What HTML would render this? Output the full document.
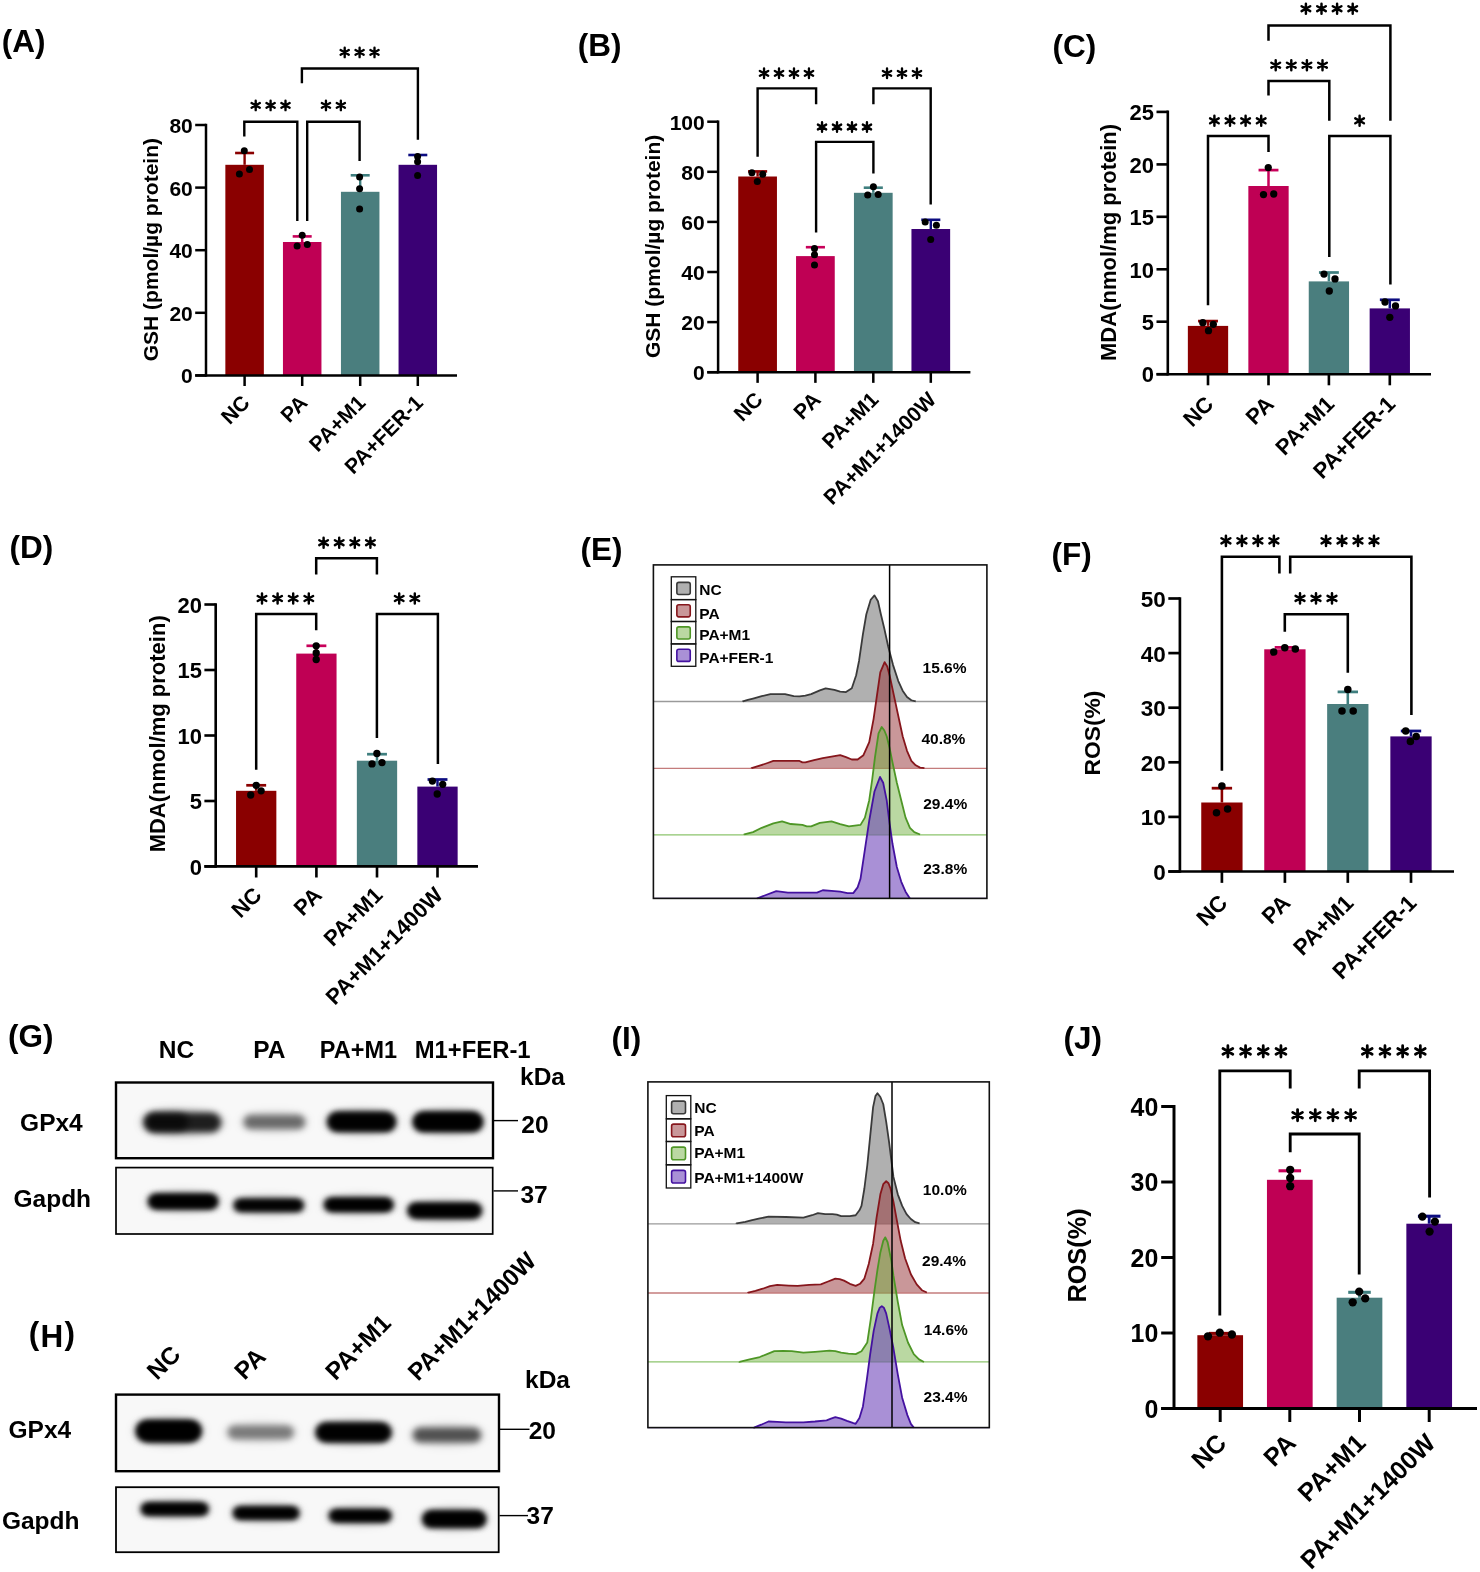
<!DOCTYPE html>
<html><head><meta charset="utf-8"><title>Figure</title>
<style>
html,body{margin:0;padding:0;background:#fff;}
body{width:1480px;height:1572px;overflow:hidden;}
svg{display:block;will-change:transform;}
svg text{font-family:"Liberation Sans",sans-serif;font-weight:bold;fill:#000;}
</style></head><body>
<svg width="1480" height="1572" viewBox="0 0 1480 1572">
<defs>
<filter id="bl" x="-30%" y="-100%" width="160%" height="300%"><feGaussianBlur stdDeviation="3.2"/></filter>
<filter id="bl2" x="-40%" y="-150%" width="180%" height="400%"><feGaussianBlur stdDeviation="5"/></filter>
</defs>
<rect width="1480" height="1572" fill="#fff"/>
<rect x="225.35" y="164.8" width="38.5" height="210.6" fill="#8a0000"/>
<rect x="282.95" y="242" width="38.5" height="133.4" fill="#bf0054"/>
<rect x="340.95" y="191.8" width="38.5" height="183.6" fill="#4a7e7e"/>
<rect x="398.55" y="164.8" width="38.5" height="210.6" fill="#3a0074"/>
<line x1="244.6" y1="164.8" x2="244.6" y2="153" stroke="#8a0000" stroke-width="2.4" stroke-linecap="butt"/>
<line x1="235.1" y1="153" x2="254.1" y2="153" stroke="#8a0000" stroke-width="2.6" stroke-linecap="butt"/>
<line x1="302.2" y1="242" x2="302.2" y2="236.4" stroke="#c8005a" stroke-width="2.4" stroke-linecap="butt"/>
<line x1="292.7" y1="236.4" x2="311.7" y2="236.4" stroke="#c8005a" stroke-width="2.6" stroke-linecap="butt"/>
<line x1="360.2" y1="191.8" x2="360.2" y2="175.3" stroke="#3f7f7f" stroke-width="2.4" stroke-linecap="butt"/>
<line x1="350.7" y1="175.3" x2="369.7" y2="175.3" stroke="#3f7f7f" stroke-width="2.6" stroke-linecap="butt"/>
<line x1="417.8" y1="164.8" x2="417.8" y2="155" stroke="#0c0c80" stroke-width="2.4" stroke-linecap="butt"/>
<line x1="408.3" y1="155" x2="427.3" y2="155" stroke="#0c0c80" stroke-width="2.6" stroke-linecap="butt"/>
<circle cx="244.3" cy="150.8" r="3.5" fill="#000"/>
<circle cx="249.5" cy="169.4" r="3.5" fill="#000"/>
<circle cx="239.4" cy="174.1" r="3.5" fill="#000"/>
<circle cx="302.2" cy="235.2" r="3.5" fill="#000"/>
<circle cx="297.1" cy="245.9" r="3.5" fill="#000"/>
<circle cx="307.3" cy="244.5" r="3.5" fill="#000"/>
<circle cx="359.6" cy="177" r="3.5" fill="#000"/>
<circle cx="359.6" cy="188.8" r="3.5" fill="#000"/>
<circle cx="359.6" cy="209" r="3.5" fill="#000"/>
<circle cx="417.6" cy="156.4" r="3.5" fill="#000"/>
<circle cx="417.6" cy="161.8" r="3.5" fill="#000"/>
<circle cx="417.6" cy="175.6" r="3.5" fill="#000"/>
<line x1="206" y1="123.75" x2="206" y2="376.65" stroke="#000" stroke-width="2.5" stroke-linecap="butt"/>
<line x1="195.2" y1="375.4" x2="457" y2="375.4" stroke="#000" stroke-width="2.5" stroke-linecap="butt"/>
<line x1="195.2" y1="375.4" x2="206" y2="375.4" stroke="#000" stroke-width="2.5" stroke-linecap="butt"/>
<text x="192.8" y="383.3" font-size="21" text-anchor="end" >0</text>
<line x1="195.2" y1="312.8" x2="206" y2="312.8" stroke="#000" stroke-width="2.5" stroke-linecap="butt"/>
<text x="192.8" y="320.7" font-size="21" text-anchor="end" >20</text>
<line x1="195.2" y1="250.2" x2="206" y2="250.2" stroke="#000" stroke-width="2.5" stroke-linecap="butt"/>
<text x="192.8" y="258.1" font-size="21" text-anchor="end" >40</text>
<line x1="195.2" y1="187.6" x2="206" y2="187.6" stroke="#000" stroke-width="2.5" stroke-linecap="butt"/>
<text x="192.8" y="195.5" font-size="21" text-anchor="end" >60</text>
<line x1="195.2" y1="125" x2="206" y2="125" stroke="#000" stroke-width="2.5" stroke-linecap="butt"/>
<text x="192.8" y="132.9" font-size="21" text-anchor="end" >80</text>
<line x1="244.6" y1="375.4" x2="244.6" y2="386" stroke="#000" stroke-width="2.5" stroke-linecap="butt"/>
<line x1="302.2" y1="375.4" x2="302.2" y2="386" stroke="#000" stroke-width="2.5" stroke-linecap="butt"/>
<line x1="360.2" y1="375.4" x2="360.2" y2="386" stroke="#000" stroke-width="2.5" stroke-linecap="butt"/>
<line x1="417.8" y1="375.4" x2="417.8" y2="386" stroke="#000" stroke-width="2.5" stroke-linecap="butt"/>
<text x="251.1" y="404.1" font-size="21" text-anchor="end" transform="rotate(-45 251.1 404.1)" >NC</text>
<text x="308.7" y="404.1" font-size="21" text-anchor="end" transform="rotate(-45 308.7 404.1)" >PA</text>
<text x="366.7" y="404.1" font-size="21" text-anchor="end" transform="rotate(-45 366.7 404.1)" >PA+M1</text>
<text x="424.3" y="404.1" font-size="21" text-anchor="end" transform="rotate(-45 424.3 404.1)" >PA+FER-1</text>
<text x="158" y="249.6" font-size="21" text-anchor="middle" transform="rotate(-90 158 249.6)" >GSH (pmol/µg protein)</text>
<path d="M244.3 136.4V121.7H297.3V220.9" stroke="#000" stroke-width="2.4" fill="none" stroke-linejoin="miter"/>
<path d="M307.2 220.9V121.7H359.6V160.9" stroke="#000" stroke-width="2.4" fill="none" stroke-linejoin="miter"/>
<path d="M301.9 83.2V68.5H417.9V139.8" stroke="#000" stroke-width="2.4" fill="none" stroke-linejoin="miter"/>
<path d="M255.7 100.65V110.15M251.59 103.03L259.81 107.78M251.59 107.78L259.81 103.03M270.6 100.65V110.15M266.49 103.03L274.71 107.78M266.49 107.78L274.71 103.03M285.5 100.65V110.15M281.39 103.03L289.61 107.78M281.39 107.78L289.61 103.03" stroke="#000" stroke-width="2.35" stroke-linecap="round" fill="none"/>
<path d="M325.95 100.65V110.15M321.84 103.03L330.06 107.78M321.84 107.78L330.06 103.03M340.85 100.65V110.15M336.74 103.03L344.96 107.78M336.74 107.78L344.96 103.03" stroke="#000" stroke-width="2.35" stroke-linecap="round" fill="none"/>
<path d="M344.7 47.65V57.15M340.59 50.02L348.81 54.77M340.59 54.77L348.81 50.02M359.6 47.65V57.15M355.49 50.02L363.71 54.77M355.49 54.77L363.71 50.02M374.5 47.65V57.15M370.39 50.02L378.61 54.77M370.39 54.77L378.61 50.02" stroke="#000" stroke-width="2.35" stroke-linecap="round" fill="none"/>
<text x="1.7" y="52.2" font-size="31.5" text-anchor="start" >(A)</text>
<rect x="738.25" y="176.5" width="38.7" height="195.7" fill="#8a0000"/>
<rect x="796.05" y="256.1" width="38.7" height="116.1" fill="#bf0054"/>
<rect x="853.95" y="192.8" width="38.7" height="179.4" fill="#4a7e7e"/>
<rect x="911.45" y="229" width="38.7" height="143.2" fill="#3a0074"/>
<line x1="757.6" y1="176.5" x2="757.6" y2="171.4" stroke="#8a0000" stroke-width="2.41" stroke-linecap="butt"/>
<line x1="748.05" y1="171.4" x2="767.15" y2="171.4" stroke="#8a0000" stroke-width="2.61" stroke-linecap="butt"/>
<line x1="815.4" y1="256.1" x2="815.4" y2="247.2" stroke="#c8005a" stroke-width="2.41" stroke-linecap="butt"/>
<line x1="805.85" y1="247.2" x2="824.95" y2="247.2" stroke="#c8005a" stroke-width="2.61" stroke-linecap="butt"/>
<line x1="873.3" y1="192.8" x2="873.3" y2="187.7" stroke="#3f7f7f" stroke-width="2.41" stroke-linecap="butt"/>
<line x1="863.75" y1="187.7" x2="882.85" y2="187.7" stroke="#3f7f7f" stroke-width="2.61" stroke-linecap="butt"/>
<line x1="930.8" y1="229" x2="930.8" y2="219.8" stroke="#0c0c80" stroke-width="2.41" stroke-linecap="butt"/>
<line x1="921.25" y1="219.8" x2="940.35" y2="219.8" stroke="#0c0c80" stroke-width="2.61" stroke-linecap="butt"/>
<circle cx="751.9" cy="172.7" r="3.52" fill="#000"/>
<circle cx="762.7" cy="174.3" r="3.52" fill="#000"/>
<circle cx="757.3" cy="181.6" r="3.52" fill="#000"/>
<circle cx="814.5" cy="248.4" r="3.52" fill="#000"/>
<circle cx="814.5" cy="254.8" r="3.52" fill="#000"/>
<circle cx="814.5" cy="265" r="3.52" fill="#000"/>
<circle cx="873.4" cy="186.7" r="3.52" fill="#000"/>
<circle cx="867.7" cy="195" r="3.52" fill="#000"/>
<circle cx="878.2" cy="194.4" r="3.52" fill="#000"/>
<circle cx="925.2" cy="222" r="3.52" fill="#000"/>
<circle cx="936.4" cy="225.2" r="3.52" fill="#000"/>
<circle cx="930.7" cy="239.5" r="3.52" fill="#000"/>
<line x1="718.1" y1="120.44" x2="718.1" y2="373.46" stroke="#000" stroke-width="2.51" stroke-linecap="butt"/>
<line x1="707.25" y1="372.2" x2="970.4" y2="372.2" stroke="#000" stroke-width="2.51" stroke-linecap="butt"/>
<line x1="707.25" y1="372.2" x2="718.1" y2="372.2" stroke="#000" stroke-width="2.51" stroke-linecap="butt"/>
<text x="704.83" y="380.14" font-size="21.1" text-anchor="end" >0</text>
<line x1="707.25" y1="322.1" x2="718.1" y2="322.1" stroke="#000" stroke-width="2.51" stroke-linecap="butt"/>
<text x="704.83" y="330.04" font-size="21.1" text-anchor="end" >20</text>
<line x1="707.25" y1="272" x2="718.1" y2="272" stroke="#000" stroke-width="2.51" stroke-linecap="butt"/>
<text x="704.83" y="279.94" font-size="21.1" text-anchor="end" >40</text>
<line x1="707.25" y1="221.9" x2="718.1" y2="221.9" stroke="#000" stroke-width="2.51" stroke-linecap="butt"/>
<text x="704.83" y="229.84" font-size="21.1" text-anchor="end" >60</text>
<line x1="707.25" y1="171.8" x2="718.1" y2="171.8" stroke="#000" stroke-width="2.51" stroke-linecap="butt"/>
<text x="704.83" y="179.74" font-size="21.1" text-anchor="end" >80</text>
<line x1="707.25" y1="121.7" x2="718.1" y2="121.7" stroke="#000" stroke-width="2.51" stroke-linecap="butt"/>
<text x="704.83" y="129.64" font-size="21.1" text-anchor="end" >100</text>
<line x1="757.6" y1="372.2" x2="757.6" y2="382.85" stroke="#000" stroke-width="2.51" stroke-linecap="butt"/>
<line x1="815.4" y1="372.2" x2="815.4" y2="382.85" stroke="#000" stroke-width="2.51" stroke-linecap="butt"/>
<line x1="873.3" y1="372.2" x2="873.3" y2="382.85" stroke="#000" stroke-width="2.51" stroke-linecap="butt"/>
<line x1="930.8" y1="372.2" x2="930.8" y2="382.85" stroke="#000" stroke-width="2.51" stroke-linecap="butt"/>
<text x="764.13" y="401.04" font-size="21.1" text-anchor="end" transform="rotate(-45 764.13 401.04)" >NC</text>
<text x="821.93" y="401.04" font-size="21.1" text-anchor="end" transform="rotate(-45 821.93 401.04)" >PA</text>
<text x="879.83" y="401.04" font-size="21.1" text-anchor="end" transform="rotate(-45 879.83 401.04)" >PA+M1</text>
<text x="937.33" y="401.04" font-size="21.1" text-anchor="end" transform="rotate(-45 937.33 401.04)" >PA+M1+1400W</text>
<text x="659.6" y="246.4" font-size="21" text-anchor="middle" transform="rotate(-90 659.6 246.4)" >GSH (pmol/µg protein)</text>
<path d="M757.6 156.8V88.4H816.1V104.3" stroke="#000" stroke-width="2.41" fill="none" stroke-linejoin="miter"/>
<path d="M816.1 232.5V141.9H873.4V173.4" stroke="#000" stroke-width="2.41" fill="none" stroke-linejoin="miter"/>
<path d="M873.4 104.3V88.4H930.7V204.5" stroke="#000" stroke-width="2.41" fill="none" stroke-linejoin="miter"/>
<path d="M764.04 68.53V78.07M759.9 70.91L768.17 75.69M759.9 75.69L768.17 70.91M779.01 68.53V78.07M774.88 70.91L783.15 75.69M774.88 75.69L783.15 70.91M793.99 68.53V78.07M789.85 70.91L798.12 75.69M789.85 75.69L798.12 70.91M808.96 68.53V78.07M804.83 70.91L813.1 75.69M804.83 75.69L813.1 70.91" stroke="#000" stroke-width="2.36" stroke-linecap="round" fill="none"/>
<path d="M822.04 122.23V131.77M817.9 124.61L826.17 129.39M817.9 129.39L826.17 124.61M837.01 122.23V131.77M832.88 124.61L841.15 129.39M832.88 129.39L841.15 124.61M851.99 122.23V131.77M847.85 124.61L856.12 129.39M847.85 129.39L856.12 124.61M866.96 122.23V131.77M862.83 124.61L871.1 129.39M862.83 129.39L871.1 124.61" stroke="#000" stroke-width="2.36" stroke-linecap="round" fill="none"/>
<path d="M887.03 68.53V78.07M882.89 70.91L891.16 75.69M882.89 75.69L891.16 70.91M902 68.53V78.07M897.87 70.91L906.13 75.69M897.87 75.69L906.13 70.91M916.97 68.53V78.07M912.84 70.91L921.11 75.69M912.84 75.69L921.11 70.91" stroke="#000" stroke-width="2.36" stroke-linecap="round" fill="none"/>
<text x="577.7" y="56.4" font-size="31.5" text-anchor="start" >(B)</text>
<rect x="1187.85" y="325.9" width="40.3" height="48.3" fill="#8a0000"/>
<rect x="1248.35" y="186" width="40.3" height="188.2" fill="#bf0054"/>
<rect x="1308.75" y="281.4" width="40.3" height="92.8" fill="#4a7e7e"/>
<rect x="1369.65" y="308.4" width="40.3" height="65.8" fill="#3a0074"/>
<line x1="1208" y1="325.9" x2="1208" y2="321.1" stroke="#8a0000" stroke-width="2.51" stroke-linecap="butt"/>
<line x1="1198.05" y1="321.1" x2="1217.95" y2="321.1" stroke="#8a0000" stroke-width="2.72" stroke-linecap="butt"/>
<line x1="1268.5" y1="186" x2="1268.5" y2="170.1" stroke="#c8005a" stroke-width="2.51" stroke-linecap="butt"/>
<line x1="1258.55" y1="170.1" x2="1278.45" y2="170.1" stroke="#c8005a" stroke-width="2.72" stroke-linecap="butt"/>
<line x1="1328.9" y1="281.4" x2="1328.9" y2="272.5" stroke="#3f7f7f" stroke-width="2.51" stroke-linecap="butt"/>
<line x1="1318.95" y1="272.5" x2="1338.85" y2="272.5" stroke="#3f7f7f" stroke-width="2.72" stroke-linecap="butt"/>
<line x1="1389.8" y1="308.4" x2="1389.8" y2="299.8" stroke="#0c0c80" stroke-width="2.51" stroke-linecap="butt"/>
<line x1="1379.85" y1="299.8" x2="1399.75" y2="299.8" stroke="#0c0c80" stroke-width="2.72" stroke-linecap="butt"/>
<circle cx="1202.8" cy="322.7" r="3.66" fill="#000"/>
<circle cx="1213.3" cy="324.3" r="3.66" fill="#000"/>
<circle cx="1208.5" cy="330.7" r="3.66" fill="#000"/>
<circle cx="1268.3" cy="167.6" r="3.66" fill="#000"/>
<circle cx="1263.5" cy="194.6" r="3.66" fill="#000"/>
<circle cx="1273.7" cy="194" r="3.66" fill="#000"/>
<circle cx="1324" cy="274.1" r="3.66" fill="#000"/>
<circle cx="1335" cy="278.9" r="3.66" fill="#000"/>
<circle cx="1329.3" cy="291" r="3.66" fill="#000"/>
<circle cx="1385" cy="302" r="3.66" fill="#000"/>
<circle cx="1395.5" cy="305.9" r="3.66" fill="#000"/>
<circle cx="1389.8" cy="317.3" r="3.66" fill="#000"/>
<line x1="1167.8" y1="110.59" x2="1167.8" y2="375.51" stroke="#000" stroke-width="2.62" stroke-linecap="butt"/>
<line x1="1156.49" y1="374.2" x2="1431" y2="374.2" stroke="#000" stroke-width="2.62" stroke-linecap="butt"/>
<line x1="1156.49" y1="374.2" x2="1167.8" y2="374.2" stroke="#000" stroke-width="2.62" stroke-linecap="butt"/>
<text x="1153.98" y="382.47" font-size="21.99" text-anchor="end" >0</text>
<line x1="1156.49" y1="321.7" x2="1167.8" y2="321.7" stroke="#000" stroke-width="2.62" stroke-linecap="butt"/>
<text x="1153.98" y="329.97" font-size="21.99" text-anchor="end" >5</text>
<line x1="1156.49" y1="269.3" x2="1167.8" y2="269.3" stroke="#000" stroke-width="2.62" stroke-linecap="butt"/>
<text x="1153.98" y="277.57" font-size="21.99" text-anchor="end" >10</text>
<line x1="1156.49" y1="216.8" x2="1167.8" y2="216.8" stroke="#000" stroke-width="2.62" stroke-linecap="butt"/>
<text x="1153.98" y="225.07" font-size="21.99" text-anchor="end" >15</text>
<line x1="1156.49" y1="164.4" x2="1167.8" y2="164.4" stroke="#000" stroke-width="2.62" stroke-linecap="butt"/>
<text x="1153.98" y="172.67" font-size="21.99" text-anchor="end" >20</text>
<line x1="1156.49" y1="111.9" x2="1167.8" y2="111.9" stroke="#000" stroke-width="2.62" stroke-linecap="butt"/>
<text x="1153.98" y="120.17" font-size="21.99" text-anchor="end" >25</text>
<line x1="1208" y1="374.2" x2="1208" y2="385.3" stroke="#000" stroke-width="2.62" stroke-linecap="butt"/>
<line x1="1268.5" y1="374.2" x2="1268.5" y2="385.3" stroke="#000" stroke-width="2.62" stroke-linecap="butt"/>
<line x1="1328.9" y1="374.2" x2="1328.9" y2="385.3" stroke="#000" stroke-width="2.62" stroke-linecap="butt"/>
<line x1="1389.8" y1="374.2" x2="1389.8" y2="385.3" stroke="#000" stroke-width="2.62" stroke-linecap="butt"/>
<text x="1214.81" y="405.45" font-size="21.99" text-anchor="end" transform="rotate(-45 1214.81 405.45)" >NC</text>
<text x="1275.31" y="405.45" font-size="21.99" text-anchor="end" transform="rotate(-45 1275.31 405.45)" >PA</text>
<text x="1335.71" y="405.45" font-size="21.99" text-anchor="end" transform="rotate(-45 1335.71 405.45)" >PA+M1</text>
<text x="1396.61" y="405.45" font-size="21.99" text-anchor="end" transform="rotate(-45 1396.61 405.45)" >PA+FER-1</text>
<text x="1116.4" y="242.4" font-size="22" text-anchor="middle" transform="rotate(-90 1116.4 242.4)" >MDA(nmol/mg protein)</text>
<path d="M1208 305.2V136.1H1268.5V152" stroke="#000" stroke-width="2.51" fill="none" stroke-linejoin="miter"/>
<path d="M1329.3 256.9V136.1H1390.4V284.6" stroke="#000" stroke-width="2.51" fill="none" stroke-linejoin="miter"/>
<path d="M1268.5 95.4V81.1H1329.3V120.8" stroke="#000" stroke-width="2.51" fill="none" stroke-linejoin="miter"/>
<path d="M1268.5 40.7V25.5H1390.4V120.8" stroke="#000" stroke-width="2.51" fill="none" stroke-linejoin="miter"/>
<path d="M1214.4 115.83V125.77M1210.09 118.31L1218.71 123.29M1210.09 123.29L1218.71 118.31M1230 115.83V125.77M1225.69 118.31L1234.31 123.29M1225.69 123.29L1234.31 118.31M1245.6 115.83V125.77M1241.29 118.31L1249.91 123.29M1241.29 123.29L1249.91 118.31M1261.2 115.83V125.77M1256.89 118.31L1265.51 123.29M1256.89 123.29L1265.51 118.31" stroke="#000" stroke-width="2.46" stroke-linecap="round" fill="none"/>
<path d="M1359.6 115.83V125.77M1355.29 118.31L1363.91 123.29M1355.29 123.29L1363.91 118.31" stroke="#000" stroke-width="2.46" stroke-linecap="round" fill="none"/>
<path d="M1275.7 60.23V70.17M1271.39 62.71L1280.01 67.69M1271.39 67.69L1280.01 62.71M1291.3 60.23V70.17M1286.99 62.71L1295.61 67.69M1286.99 67.69L1295.61 62.71M1306.9 60.23V70.17M1302.59 62.71L1311.21 67.69M1302.59 67.69L1311.21 62.71M1322.5 60.23V70.17M1318.19 62.71L1326.81 67.69M1318.19 67.69L1326.81 62.71" stroke="#000" stroke-width="2.46" stroke-linecap="round" fill="none"/>
<path d="M1305.9 3.73V13.67M1301.59 6.21L1310.21 11.19M1301.59 11.19L1310.21 6.21M1321.5 3.73V13.67M1317.19 6.21L1325.81 11.19M1317.19 11.19L1325.81 6.21M1337.1 3.73V13.67M1332.79 6.21L1341.41 11.19M1332.79 11.19L1341.41 6.21M1352.7 3.73V13.67M1348.39 6.21L1357.01 11.19M1348.39 11.19L1357.01 6.21" stroke="#000" stroke-width="2.46" stroke-linecap="round" fill="none"/>
<text x="1052.5" y="57.4" font-size="31.5" text-anchor="start" >(C)</text>
<rect x="236.05" y="790.8" width="40.3" height="75.6" fill="#8a0000"/>
<rect x="296.25" y="653.6" width="40.3" height="212.8" fill="#bf0054"/>
<rect x="356.85" y="760.7" width="40.3" height="105.7" fill="#4a7e7e"/>
<rect x="417.35" y="786.6" width="40.3" height="79.8" fill="#3a0074"/>
<line x1="256.2" y1="790.8" x2="256.2" y2="785.3" stroke="#8a0000" stroke-width="2.51" stroke-linecap="butt"/>
<line x1="246.25" y1="785.3" x2="266.15" y2="785.3" stroke="#8a0000" stroke-width="2.72" stroke-linecap="butt"/>
<line x1="316.4" y1="653.6" x2="316.4" y2="645.8" stroke="#c8005a" stroke-width="2.51" stroke-linecap="butt"/>
<line x1="306.45" y1="645.8" x2="326.35" y2="645.8" stroke="#c8005a" stroke-width="2.72" stroke-linecap="butt"/>
<line x1="377" y1="760.7" x2="377" y2="754.2" stroke="#3f7f7f" stroke-width="2.51" stroke-linecap="butt"/>
<line x1="367.05" y1="754.2" x2="386.95" y2="754.2" stroke="#3f7f7f" stroke-width="2.72" stroke-linecap="butt"/>
<line x1="437.5" y1="786.6" x2="437.5" y2="779.5" stroke="#0c0c80" stroke-width="2.51" stroke-linecap="butt"/>
<line x1="427.55" y1="779.5" x2="447.45" y2="779.5" stroke="#0c0c80" stroke-width="2.72" stroke-linecap="butt"/>
<circle cx="256.2" cy="785.3" r="3.66" fill="#000"/>
<circle cx="261.1" cy="790.8" r="3.66" fill="#000"/>
<circle cx="250.7" cy="795" r="3.66" fill="#000"/>
<circle cx="316.2" cy="645.8" r="3.66" fill="#000"/>
<circle cx="316.2" cy="653" r="3.66" fill="#000"/>
<circle cx="316.2" cy="659.5" r="3.66" fill="#000"/>
<circle cx="376.9" cy="753.5" r="3.66" fill="#000"/>
<circle cx="372" cy="763.9" r="3.66" fill="#000"/>
<circle cx="382" cy="762.6" r="3.66" fill="#000"/>
<circle cx="432.4" cy="781.1" r="3.66" fill="#000"/>
<circle cx="442.7" cy="784.3" r="3.66" fill="#000"/>
<circle cx="437.2" cy="794" r="3.66" fill="#000"/>
<line x1="215.7" y1="603.19" x2="215.7" y2="867.71" stroke="#000" stroke-width="2.62" stroke-linecap="butt"/>
<line x1="204.39" y1="866.4" x2="478" y2="866.4" stroke="#000" stroke-width="2.62" stroke-linecap="butt"/>
<line x1="204.39" y1="866.4" x2="215.7" y2="866.4" stroke="#000" stroke-width="2.62" stroke-linecap="butt"/>
<text x="201.88" y="874.67" font-size="21.99" text-anchor="end" >0</text>
<line x1="204.39" y1="801" x2="215.7" y2="801" stroke="#000" stroke-width="2.62" stroke-linecap="butt"/>
<text x="201.88" y="809.27" font-size="21.99" text-anchor="end" >5</text>
<line x1="204.39" y1="735.5" x2="215.7" y2="735.5" stroke="#000" stroke-width="2.62" stroke-linecap="butt"/>
<text x="201.88" y="743.77" font-size="21.99" text-anchor="end" >10</text>
<line x1="204.39" y1="670" x2="215.7" y2="670" stroke="#000" stroke-width="2.62" stroke-linecap="butt"/>
<text x="201.88" y="678.27" font-size="21.99" text-anchor="end" >15</text>
<line x1="204.39" y1="604.5" x2="215.7" y2="604.5" stroke="#000" stroke-width="2.62" stroke-linecap="butt"/>
<text x="201.88" y="612.77" font-size="21.99" text-anchor="end" >20</text>
<line x1="256.2" y1="866.4" x2="256.2" y2="877.5" stroke="#000" stroke-width="2.62" stroke-linecap="butt"/>
<line x1="316.4" y1="866.4" x2="316.4" y2="877.5" stroke="#000" stroke-width="2.62" stroke-linecap="butt"/>
<line x1="377" y1="866.4" x2="377" y2="877.5" stroke="#000" stroke-width="2.62" stroke-linecap="butt"/>
<line x1="437.5" y1="866.4" x2="437.5" y2="877.5" stroke="#000" stroke-width="2.62" stroke-linecap="butt"/>
<text x="263.01" y="896.45" font-size="21.99" text-anchor="end" transform="rotate(-45 263.01 896.45)" >NC</text>
<text x="323.21" y="896.45" font-size="21.99" text-anchor="end" transform="rotate(-45 323.21 896.45)" >PA</text>
<text x="383.81" y="896.45" font-size="21.99" text-anchor="end" transform="rotate(-45 383.81 896.45)" >PA+M1</text>
<text x="444.31" y="896.45" font-size="21.99" text-anchor="end" transform="rotate(-45 444.31 896.45)" >PA+M1+1400W</text>
<text x="164.8" y="733.8" font-size="22" text-anchor="middle" transform="rotate(-90 164.8 733.8)" >MDA(nmol/mg protein)</text>
<path d="M256.2 769.7V614.1H316.2V630.3" stroke="#000" stroke-width="2.51" fill="none" stroke-linejoin="miter"/>
<path d="M376.9 738V614.1H437.9V763.9" stroke="#000" stroke-width="2.51" fill="none" stroke-linejoin="miter"/>
<path d="M316.2 574.5V558.3H376.9V574.5" stroke="#000" stroke-width="2.51" fill="none" stroke-linejoin="miter"/>
<path d="M262 593.53V603.47M257.69 596.01L266.31 600.99M257.69 600.99L266.31 596.01M277.6 593.53V603.47M273.29 596.01L281.91 600.99M273.29 600.99L281.91 596.01M293.2 593.53V603.47M288.89 596.01L297.51 600.99M288.89 600.99L297.51 596.01M308.8 593.53V603.47M304.49 596.01L313.11 600.99M304.49 600.99L313.11 596.01" stroke="#000" stroke-width="2.46" stroke-linecap="round" fill="none"/>
<path d="M399.2 593.53V603.47M394.89 596.01L403.51 600.99M394.89 600.99L403.51 596.01M414.8 593.53V603.47M410.49 596.01L419.11 600.99M410.49 600.99L419.11 596.01" stroke="#000" stroke-width="2.46" stroke-linecap="round" fill="none"/>
<path d="M323.6 537.73V547.67M319.29 540.21L327.91 545.19M319.29 545.19L327.91 540.21M339.2 537.73V547.67M334.89 540.21L343.51 545.19M334.89 545.19L343.51 540.21M354.8 537.73V547.67M350.49 540.21L359.11 545.19M350.49 545.19L359.11 540.21M370.4 537.73V547.67M366.09 540.21L374.71 545.19M366.09 545.19L374.71 540.21" stroke="#000" stroke-width="2.46" stroke-linecap="round" fill="none"/>
<text x="9.6" y="557.8" font-size="31.5" text-anchor="start" >(D)</text>
<rect x="1201.25" y="802.5" width="41.3" height="69" fill="#8a0000"/>
<rect x="1264.25" y="649.3" width="41.3" height="222.2" fill="#bf0054"/>
<rect x="1327.15" y="704" width="41.3" height="167.5" fill="#4a7e7e"/>
<rect x="1390.35" y="736.4" width="41.3" height="135.1" fill="#3a0074"/>
<line x1="1221.9" y1="802.5" x2="1221.9" y2="788.2" stroke="#8a0000" stroke-width="2.58" stroke-linecap="butt"/>
<line x1="1211.71" y1="788.2" x2="1232.09" y2="788.2" stroke="#8a0000" stroke-width="2.79" stroke-linecap="butt"/>
<line x1="1284.9" y1="649.3" x2="1284.9" y2="647.4" stroke="#c8005a" stroke-width="2.58" stroke-linecap="butt"/>
<line x1="1274.71" y1="647.4" x2="1295.09" y2="647.4" stroke="#c8005a" stroke-width="2.79" stroke-linecap="butt"/>
<line x1="1347.8" y1="704" x2="1347.8" y2="691.9" stroke="#3f7f7f" stroke-width="2.58" stroke-linecap="butt"/>
<line x1="1337.61" y1="691.9" x2="1357.99" y2="691.9" stroke="#3f7f7f" stroke-width="2.79" stroke-linecap="butt"/>
<line x1="1411" y1="736.4" x2="1411" y2="731" stroke="#0c0c80" stroke-width="2.58" stroke-linecap="butt"/>
<line x1="1400.81" y1="731" x2="1421.19" y2="731" stroke="#0c0c80" stroke-width="2.79" stroke-linecap="butt"/>
<circle cx="1221.9" cy="786" r="3.76" fill="#000"/>
<circle cx="1227.6" cy="808.9" r="3.76" fill="#000"/>
<circle cx="1216.5" cy="812.7" r="3.76" fill="#000"/>
<circle cx="1273.7" cy="652.1" r="3.76" fill="#000"/>
<circle cx="1284.8" cy="647.7" r="3.76" fill="#000"/>
<circle cx="1295.3" cy="649" r="3.76" fill="#000"/>
<circle cx="1347.8" cy="689.6" r="3.76" fill="#000"/>
<circle cx="1342" cy="711" r="3.76" fill="#000"/>
<circle cx="1353.2" cy="711" r="3.76" fill="#000"/>
<circle cx="1405.7" cy="731" r="3.76" fill="#000"/>
<circle cx="1416.2" cy="736.4" r="3.76" fill="#000"/>
<circle cx="1410.4" cy="741.5" r="3.76" fill="#000"/>
<line x1="1179.9" y1="597.16" x2="1179.9" y2="872.84" stroke="#000" stroke-width="2.68" stroke-linecap="butt"/>
<line x1="1168.31" y1="871.5" x2="1454" y2="871.5" stroke="#000" stroke-width="2.68" stroke-linecap="butt"/>
<line x1="1168.31" y1="871.5" x2="1179.9" y2="871.5" stroke="#000" stroke-width="2.68" stroke-linecap="butt"/>
<text x="1165.74" y="879.98" font-size="22.53" text-anchor="end" >0</text>
<line x1="1168.31" y1="816.9" x2="1179.9" y2="816.9" stroke="#000" stroke-width="2.68" stroke-linecap="butt"/>
<text x="1165.74" y="825.38" font-size="22.53" text-anchor="end" >10</text>
<line x1="1168.31" y1="762.3" x2="1179.9" y2="762.3" stroke="#000" stroke-width="2.68" stroke-linecap="butt"/>
<text x="1165.74" y="770.78" font-size="22.53" text-anchor="end" >20</text>
<line x1="1168.31" y1="707.7" x2="1179.9" y2="707.7" stroke="#000" stroke-width="2.68" stroke-linecap="butt"/>
<text x="1165.74" y="716.18" font-size="22.53" text-anchor="end" >30</text>
<line x1="1168.31" y1="653.1" x2="1179.9" y2="653.1" stroke="#000" stroke-width="2.68" stroke-linecap="butt"/>
<text x="1165.74" y="661.58" font-size="22.53" text-anchor="end" >40</text>
<line x1="1168.31" y1="598.5" x2="1179.9" y2="598.5" stroke="#000" stroke-width="2.68" stroke-linecap="butt"/>
<text x="1165.74" y="606.98" font-size="22.53" text-anchor="end" >50</text>
<line x1="1221.9" y1="871.5" x2="1221.9" y2="882.87" stroke="#000" stroke-width="2.68" stroke-linecap="butt"/>
<line x1="1284.9" y1="871.5" x2="1284.9" y2="882.87" stroke="#000" stroke-width="2.68" stroke-linecap="butt"/>
<line x1="1347.8" y1="871.5" x2="1347.8" y2="882.87" stroke="#000" stroke-width="2.68" stroke-linecap="butt"/>
<line x1="1411" y1="871.5" x2="1411" y2="882.87" stroke="#000" stroke-width="2.68" stroke-linecap="butt"/>
<text x="1228.87" y="904.3" font-size="22.53" text-anchor="end" transform="rotate(-45 1228.87 904.3)" >NC</text>
<text x="1291.87" y="904.3" font-size="22.53" text-anchor="end" transform="rotate(-45 1291.87 904.3)" >PA</text>
<text x="1354.77" y="904.3" font-size="22.53" text-anchor="end" transform="rotate(-45 1354.77 904.3)" >PA+M1</text>
<text x="1417.97" y="904.3" font-size="22.53" text-anchor="end" transform="rotate(-45 1417.97 904.3)" >PA+FER-1</text>
<text x="1100.2" y="733" font-size="22.8" text-anchor="middle" transform="rotate(-90 1100.2 733)" >ROS(%)</text>
<path d="M1221.9 770.7V556.7H1279.4V573.6" stroke="#000" stroke-width="2.58" fill="none" stroke-linejoin="miter"/>
<path d="M1290.2 573.6V556.7H1411.4V715.1" stroke="#000" stroke-width="2.58" fill="none" stroke-linejoin="miter"/>
<path d="M1284.8 631.8V614.3H1347.8V672.8" stroke="#000" stroke-width="2.58" fill="none" stroke-linejoin="miter"/>
<path d="M1225.92 535.7V545.9M1221.5 538.25L1230.33 543.35M1221.5 543.35L1230.33 538.25M1241.91 535.7V545.9M1237.49 538.25L1246.32 543.35M1237.49 543.35L1246.32 538.25M1257.89 535.7V545.9M1253.48 538.25L1262.31 543.35M1253.48 543.35L1262.31 538.25M1273.88 535.7V545.9M1269.47 538.25L1278.3 543.35M1269.47 543.35L1278.3 538.25" stroke="#000" stroke-width="2.52" stroke-linecap="round" fill="none"/>
<path d="M1326.02 535.7V545.9M1321.6 538.25L1330.43 543.35M1321.6 543.35L1330.43 538.25M1342.01 535.7V545.9M1337.59 538.25L1346.42 543.35M1337.59 543.35L1346.42 538.25M1357.99 535.7V545.9M1353.58 538.25L1362.41 543.35M1353.58 543.35L1362.41 538.25M1373.98 535.7V545.9M1369.57 538.25L1378.4 543.35M1369.57 543.35L1378.4 538.25" stroke="#000" stroke-width="2.52" stroke-linecap="round" fill="none"/>
<path d="M1300.01 593.3V603.5M1295.6 595.85L1304.43 600.95M1295.6 600.95L1304.43 595.85M1316 593.3V603.5M1311.59 595.85L1320.41 600.95M1311.59 600.95L1320.41 595.85M1331.99 593.3V603.5M1327.57 595.85L1336.4 600.95M1327.57 600.95L1336.4 595.85" stroke="#000" stroke-width="2.52" stroke-linecap="round" fill="none"/>
<text x="1051.5" y="565.3" font-size="31.5" text-anchor="start" >(F)</text>
<rect x="1197.35" y="1335.2" width="45.7" height="73.3" fill="#8a0000"/>
<rect x="1266.95" y="1179.8" width="45.7" height="228.7" fill="#bf0054"/>
<rect x="1336.65" y="1297.7" width="45.7" height="110.8" fill="#4a7e7e"/>
<rect x="1406.35" y="1223.7" width="45.7" height="184.8" fill="#3a0074"/>
<line x1="1220.2" y1="1335.2" x2="1220.2" y2="1333.4" stroke="#8a0000" stroke-width="2.85" stroke-linecap="butt"/>
<line x1="1208.92" y1="1333.4" x2="1231.48" y2="1333.4" stroke="#8a0000" stroke-width="3.09" stroke-linecap="butt"/>
<line x1="1289.8" y1="1179.8" x2="1289.8" y2="1170.8" stroke="#c8005a" stroke-width="2.85" stroke-linecap="butt"/>
<line x1="1278.52" y1="1170.8" x2="1301.08" y2="1170.8" stroke="#c8005a" stroke-width="3.09" stroke-linecap="butt"/>
<line x1="1359.5" y1="1297.7" x2="1359.5" y2="1292.3" stroke="#3f7f7f" stroke-width="2.85" stroke-linecap="butt"/>
<line x1="1348.22" y1="1292.3" x2="1370.78" y2="1292.3" stroke="#3f7f7f" stroke-width="3.09" stroke-linecap="butt"/>
<line x1="1429.2" y1="1223.7" x2="1429.2" y2="1216.2" stroke="#0c0c80" stroke-width="2.85" stroke-linecap="butt"/>
<line x1="1417.92" y1="1216.2" x2="1440.48" y2="1216.2" stroke="#0c0c80" stroke-width="3.09" stroke-linecap="butt"/>
<circle cx="1208" cy="1336.3" r="4.15" fill="#000"/>
<circle cx="1219.8" cy="1332.7" r="4.15" fill="#000"/>
<circle cx="1231.9" cy="1334.5" r="4.15" fill="#000"/>
<circle cx="1290.2" cy="1169.8" r="4.15" fill="#000"/>
<circle cx="1290.2" cy="1178" r="4.15" fill="#000"/>
<circle cx="1290.2" cy="1186.2" r="4.15" fill="#000"/>
<circle cx="1359.2" cy="1291.6" r="4.15" fill="#000"/>
<circle cx="1352.7" cy="1302.3" r="4.15" fill="#000"/>
<circle cx="1365.2" cy="1298.4" r="4.15" fill="#000"/>
<circle cx="1422.4" cy="1216.6" r="4.15" fill="#000"/>
<circle cx="1434.9" cy="1221.6" r="4.15" fill="#000"/>
<circle cx="1429.6" cy="1231.6" r="4.15" fill="#000"/>
<line x1="1174" y1="1105.02" x2="1174" y2="1409.98" stroke="#000" stroke-width="2.97" stroke-linecap="butt"/>
<line x1="1161.18" y1="1408.5" x2="1477" y2="1408.5" stroke="#000" stroke-width="2.97" stroke-linecap="butt"/>
<line x1="1161.18" y1="1408.5" x2="1174" y2="1408.5" stroke="#000" stroke-width="2.97" stroke-linecap="butt"/>
<text x="1158.33" y="1417.88" font-size="24.93" text-anchor="end" >0</text>
<line x1="1161.18" y1="1333" x2="1174" y2="1333" stroke="#000" stroke-width="2.97" stroke-linecap="butt"/>
<text x="1158.33" y="1342.38" font-size="24.93" text-anchor="end" >10</text>
<line x1="1161.18" y1="1257.5" x2="1174" y2="1257.5" stroke="#000" stroke-width="2.97" stroke-linecap="butt"/>
<text x="1158.33" y="1266.88" font-size="24.93" text-anchor="end" >20</text>
<line x1="1161.18" y1="1182" x2="1174" y2="1182" stroke="#000" stroke-width="2.97" stroke-linecap="butt"/>
<text x="1158.33" y="1191.38" font-size="24.93" text-anchor="end" >30</text>
<line x1="1161.18" y1="1106.5" x2="1174" y2="1106.5" stroke="#000" stroke-width="2.97" stroke-linecap="butt"/>
<text x="1158.33" y="1115.88" font-size="24.93" text-anchor="end" >40</text>
<line x1="1220.2" y1="1408.5" x2="1220.2" y2="1422" stroke="#000" stroke-width="2.97" stroke-linecap="butt"/>
<line x1="1289.8" y1="1408.5" x2="1289.8" y2="1422" stroke="#000" stroke-width="2.97" stroke-linecap="butt"/>
<line x1="1359.5" y1="1408.5" x2="1359.5" y2="1422" stroke="#000" stroke-width="2.97" stroke-linecap="butt"/>
<line x1="1429.2" y1="1408.5" x2="1429.2" y2="1422" stroke="#000" stroke-width="2.97" stroke-linecap="butt"/>
<text x="1227.9" y="1444.5" font-size="25.3" text-anchor="end" transform="rotate(-45 1227.9 1444.5)" >NC</text>
<text x="1297.5" y="1444.5" font-size="25.3" text-anchor="end" transform="rotate(-45 1297.5 1444.5)" >PA</text>
<text x="1367.2" y="1444.5" font-size="25.3" text-anchor="end" transform="rotate(-45 1367.2 1444.5)" >PA+M1</text>
<text x="1436.9" y="1444.5" font-size="25.3" text-anchor="end" transform="rotate(-45 1436.9 1444.5)" >PA+M1+1400W</text>
<text x="1086" y="1255.5" font-size="25.3" text-anchor="middle" transform="rotate(-90 1086 1255.5)" >ROS(%)</text>
<path d="M1219.8 1315.6V1070.8H1290.2V1088.4" stroke="#000" stroke-width="2.85" fill="none" stroke-linejoin="miter"/>
<path d="M1359.2 1088.4V1070.8H1429.6V1197.6" stroke="#000" stroke-width="2.85" fill="none" stroke-linejoin="miter"/>
<path d="M1290.2 1152.2V1134H1359.2V1274.5" stroke="#000" stroke-width="2.85" fill="none" stroke-linejoin="miter"/>
<path d="M1227.87 1045.76V1057.04M1222.99 1048.58L1232.75 1054.22M1222.99 1054.22L1232.75 1048.58M1245.56 1045.76V1057.04M1240.67 1048.58L1250.44 1054.22M1240.67 1054.22L1250.44 1048.58M1263.24 1045.76V1057.04M1258.36 1048.58L1268.13 1054.22M1258.36 1054.22L1268.13 1048.58M1280.93 1045.76V1057.04M1276.05 1048.58L1285.81 1054.22M1276.05 1054.22L1285.81 1048.58" stroke="#000" stroke-width="2.79" stroke-linecap="round" fill="none"/>
<path d="M1367.27 1045.76V1057.04M1362.39 1048.58L1372.15 1054.22M1362.39 1054.22L1372.15 1048.58M1384.96 1045.76V1057.04M1380.07 1048.58L1389.84 1054.22M1380.07 1054.22L1389.84 1048.58M1402.64 1045.76V1057.04M1397.76 1048.58L1407.53 1054.22M1397.76 1054.22L1407.53 1048.58M1420.33 1045.76V1057.04M1415.45 1048.58L1425.21 1054.22M1415.45 1054.22L1425.21 1048.58" stroke="#000" stroke-width="2.79" stroke-linecap="round" fill="none"/>
<path d="M1297.57 1109.56V1120.84M1292.69 1112.38L1302.45 1118.02M1292.69 1118.02L1302.45 1112.38M1315.26 1109.56V1120.84M1310.37 1112.38L1320.14 1118.02M1310.37 1118.02L1320.14 1112.38M1332.94 1109.56V1120.84M1328.06 1112.38L1337.83 1118.02M1328.06 1118.02L1337.83 1112.38M1350.63 1109.56V1120.84M1345.75 1112.38L1355.51 1118.02M1345.75 1118.02L1355.51 1112.38" stroke="#000" stroke-width="2.79" stroke-linecap="round" fill="none"/>
<text x="1063.4" y="1049" font-size="31.5" text-anchor="start" >(J)</text>
<rect x="653.4" y="564.9" width="333.5" height="333.5" fill="#fff"/>
<path d="M742.86 701.5L742.86 701.41L747.8 699.96L753.03 698.51L761.75 696.18L770.46 694.15L784.99 694.15L793.71 696.18L799.52 696.47L805.33 695.6L811.14 694.15L819.85 690.37L825.67 688.34L834.38 689.79L840.19 691.53L846 692.12L851.81 688.34L856.17 675.26L859.08 660.74L862.85 634.59L866.34 614.25L870.7 599.73L874.47 595.37L877.96 601.18L880.87 614.25L884.35 628.78L888.13 646.21L893.07 665.1L898.3 681.07L902.66 690.66L907.01 697.05L911.37 700.25L915.73 701.41L915.73 701.5Z" fill="#7f7f7f" fill-opacity="0.62" stroke="none"/>
<line x1="653.4" y1="701.5" x2="986.9" y2="701.5" stroke="#9a9a9a" stroke-width="1.3" stroke-linecap="butt"/>
<path d="M742.86 701.5L742.86 701.41L747.8 699.96L753.03 698.51L761.75 696.18L770.46 694.15L784.99 694.15L793.71 696.18L799.52 696.47L805.33 695.6L811.14 694.15L819.85 690.37L825.67 688.34L834.38 689.79L840.19 691.53L846 692.12L851.81 688.34L856.17 675.26L859.08 660.74L862.85 634.59L866.34 614.25L870.7 599.73L874.47 595.37L877.96 601.18L880.87 614.25L884.35 628.78L888.13 646.21L893.07 665.1L898.3 681.07L902.66 690.66L907.01 697.05L911.37 700.25L915.73 701.41" fill="none" stroke="#3a3a3a" stroke-width="1.8" stroke-linejoin="round"/>
<path d="M751.58 768.3L751.58 768.23L758.84 765.91L767.56 763L773.37 760.97L784.99 760.97L799.52 760.97L802.42 762.42L805.33 762.42L814.04 760.1L822.76 758.07L831.48 756.61L840.19 755.16L846 757.19L851.81 759.52L857.62 759.52L863.43 755.16L869.24 742.09L873.6 718.84L876.51 698.51L880.28 672.36L884.64 662.19L887.26 666.55L889.58 675.26L893.94 695.6L898.3 715.94L902.66 736.28L907.01 750.8L911.37 760.97L915.73 765.33L920.09 767.65L924.45 768.23L924.45 768.3Z" fill="#98383c" fill-opacity="0.52" stroke="none"/>
<line x1="653.4" y1="768.3" x2="986.9" y2="768.3" stroke="#c47c7c" stroke-width="1.3" stroke-linecap="butt"/>
<path d="M751.58 768.3L751.58 768.23L758.84 765.91L767.56 763L773.37 760.97L784.99 760.97L799.52 760.97L802.42 762.42L805.33 762.42L814.04 760.1L822.76 758.07L831.48 756.61L840.19 755.16L846 757.19L851.81 759.52L857.62 759.52L863.43 755.16L869.24 742.09L873.6 718.84L876.51 698.51L880.28 672.36L884.64 662.19L887.26 666.55L889.58 675.26L893.94 695.6L898.3 715.94L902.66 736.28L907.01 750.8L911.37 760.97L915.73 765.33L920.09 767.65L924.45 768.23" fill="none" stroke="#86161c" stroke-width="1.8" stroke-linejoin="round"/>
<path d="M744.32 834.8L744.32 834.47L753.03 832.15L761.75 827.79L773.37 823.43L782.09 821.4L790.8 824.02L802.42 824.89L806.78 826.34L811.14 826.34L819.85 822.85L831.48 821.4L840.19 824.02L848.91 826.34L860.53 824.89L864.89 817.62L869.24 800.19L872.15 779.85L875.06 756.61L878.54 733.37L881.74 726.98L884.35 730.46L886.68 736.28L889.58 747.9L892.49 762.42L896.84 782.76L901.2 800.19L905.56 817.62L909.92 827.79L914.28 832.15L920.09 834.47L920.09 834.8Z" fill="#6fae3c" fill-opacity="0.48" stroke="none"/>
<line x1="653.4" y1="834.8" x2="986.9" y2="834.8" stroke="#8cc46c" stroke-width="1.3" stroke-linecap="butt"/>
<path d="M744.32 834.8L744.32 834.47L753.03 832.15L761.75 827.79L773.37 823.43L782.09 821.4L790.8 824.02L802.42 824.89L806.78 826.34L811.14 826.34L819.85 822.85L831.48 821.4L840.19 824.02L848.91 826.34L860.53 824.89L864.89 817.62L869.24 800.19L872.15 779.85L875.06 756.61L878.54 733.37L881.74 726.98L884.35 730.46L886.68 736.28L889.58 747.9L892.49 762.42L896.84 782.76L901.2 800.19L905.56 817.62L909.92 827.79L914.28 832.15L920.09 834.47" fill="none" stroke="#4e9626" stroke-width="1.8" stroke-linejoin="round"/>
<path d="M757.39 898.4L757.39 898.39L764.65 895.49L776.28 891.13L787.9 892.58L802.42 892.58L816.95 892.58L822.76 890.26L831.48 890.84L840.19 891.71L847.45 893.16L853.27 893.16L857.62 887.35L860.53 878.63L864.89 849.58L869.24 820.53L874.47 791.48L879.99 776.95L883.19 782.76L886.68 800.19L889.58 823.43L892.49 843.77L896.84 867.01L901.2 881.54L905.56 891.71L909.92 898.39L909.92 898.4Z" fill="#6a3fb8" fill-opacity="0.58" stroke="none"/>
<line x1="653.4" y1="898.4" x2="986.9" y2="898.4" stroke="#8a6ac8" stroke-width="1.3" stroke-linecap="butt"/>
<path d="M757.39 898.4L757.39 898.39L764.65 895.49L776.28 891.13L787.9 892.58L802.42 892.58L816.95 892.58L822.76 890.26L831.48 890.84L840.19 891.71L847.45 893.16L853.27 893.16L857.62 887.35L860.53 878.63L864.89 849.58L869.24 820.53L874.47 791.48L879.99 776.95L883.19 782.76L886.68 800.19L889.58 823.43L892.49 843.77L896.84 867.01L901.2 881.54L905.56 891.71L909.92 898.39" fill="none" stroke="#4412a0" stroke-width="1.8" stroke-linejoin="round"/>
<line x1="889.6" y1="564.9" x2="889.6" y2="898.4" stroke="#000" stroke-width="1.5" stroke-linecap="butt"/>
<rect x="653.4" y="564.9" width="333.5" height="333.5" fill="none" stroke="#111" stroke-width="1.6"/>
<rect x="671.3" y="576.8" width="24.5" height="22.8" fill="none" stroke="#111" stroke-width="1.3"/>
<rect x="676.85" y="582.4" width="13.4" height="12.1" rx="2" fill="#7f7f7f" fill-opacity="0.62" stroke="#3a3a3a" stroke-width="1.6"/>
<text x="699.2" y="595.3" font-size="15.5" text-anchor="start" >NC</text>
<rect x="671.3" y="599.6" width="24.5" height="21.9" fill="none" stroke="#111" stroke-width="1.3"/>
<rect x="676.85" y="604.75" width="13.4" height="12.1" rx="2" fill="#98383c" fill-opacity="0.52" stroke="#86161c" stroke-width="1.6"/>
<text x="699.2" y="619.4" font-size="15.5" text-anchor="start" >PA</text>
<rect x="671.3" y="621.5" width="24.5" height="22.4" fill="none" stroke="#111" stroke-width="1.3"/>
<rect x="676.85" y="626.9" width="13.4" height="12.1" rx="2" fill="#6fae3c" fill-opacity="0.48" stroke="#4e9626" stroke-width="1.6"/>
<text x="699.2" y="640.1" font-size="15.5" text-anchor="start" >PA+M1</text>
<rect x="671.3" y="643.9" width="24.5" height="22.4" fill="none" stroke="#111" stroke-width="1.3"/>
<rect x="676.85" y="649.3" width="13.4" height="12.1" rx="2" fill="#6a3fb8" fill-opacity="0.58" stroke="#4412a0" stroke-width="1.6"/>
<text x="699.2" y="662.5" font-size="15.5" text-anchor="start" >PA+FER-1</text>
<text x="922.55" y="673.4" font-size="15.5" text-anchor="start" >15.6%</text>
<text x="921.45" y="743.7" font-size="15.5" text-anchor="start" >40.8%</text>
<text x="923.25" y="808.9" font-size="15.5" text-anchor="start" >29.4%</text>
<text x="923.25" y="874" font-size="15.5" text-anchor="start" >23.8%</text>
<text x="580.4" y="560" font-size="31.5" text-anchor="start" >(E)</text>
<rect x="647.9" y="1081.9" width="341.4" height="345.7" fill="#fff"/>
<path d="M736.55 1223.8L736.55 1223.37L745.26 1221.92L751.07 1220.46L759.79 1218.43L768.51 1216.69L785.94 1216.98L803.37 1217.56L812.09 1215.24L817.9 1213.2L825.16 1214.07L832.42 1214.07L836.78 1214.65L841.14 1216.11L849.85 1216.11L855.67 1215.24L859.44 1210.3L861.48 1205.94L864.38 1188.51L867.29 1165.26L870.19 1136.21L873.1 1107.16L875.42 1096.12L877.45 1093.21L880.36 1096.99L883.27 1104.25L886.17 1121.69L889.08 1142.02L893.43 1176.89L897.79 1194.32L902.15 1205.94L906.51 1214.07L910.87 1219.01L915.22 1222.21L919.58 1223.37L919.58 1223.8Z" fill="#7f7f7f" fill-opacity="0.62" stroke="none"/>
<line x1="647.9" y1="1223.8" x2="989.3" y2="1223.8" stroke="#9a9a9a" stroke-width="1.3" stroke-linecap="butt"/>
<path d="M736.55 1223.8L736.55 1223.37L745.26 1221.92L751.07 1220.46L759.79 1218.43L768.51 1216.69L785.94 1216.98L803.37 1217.56L812.09 1215.24L817.9 1213.2L825.16 1214.07L832.42 1214.07L836.78 1214.65L841.14 1216.11L849.85 1216.11L855.67 1215.24L859.44 1210.3L861.48 1205.94L864.38 1188.51L867.29 1165.26L870.19 1136.21L873.1 1107.16L875.42 1096.12L877.45 1093.21L880.36 1096.99L883.27 1104.25L886.17 1121.69L889.08 1142.02L893.43 1176.89L897.79 1194.32L902.15 1205.94L906.51 1214.07L910.87 1219.01L915.22 1222.21L919.58 1223.37" fill="none" stroke="#3a3a3a" stroke-width="1.8" stroke-linejoin="round"/>
<path d="M748.17 1293L748.17 1292.52L755.43 1290.77L762.7 1288.74L769.96 1286.12L777.22 1284.96L788.84 1285.54L797.56 1285.83L809.18 1284.96L820.8 1284.38L828.07 1281.48L835.33 1278.57L839.69 1279.15L844.04 1280.6L849.85 1283.8L855.67 1285.83L860.02 1283.8L864.38 1278.57L868.74 1264.04L873.1 1243.71L876.58 1217.56L880.36 1194.32L883.27 1184.15L886.17 1181.24L888.5 1183.28L890.53 1188.51L893.43 1201.58L896.34 1217.56L900.7 1240.8L905.06 1258.23L910.87 1274.21L916.68 1284.38L921.91 1290.19L926.84 1292.52L926.84 1293Z" fill="#98383c" fill-opacity="0.52" stroke="none"/>
<line x1="647.9" y1="1293" x2="989.3" y2="1293" stroke="#c47c7c" stroke-width="1.3" stroke-linecap="butt"/>
<path d="M748.17 1293L748.17 1292.52L755.43 1290.77L762.7 1288.74L769.96 1286.12L777.22 1284.96L788.84 1285.54L797.56 1285.83L809.18 1284.96L820.8 1284.38L828.07 1281.48L835.33 1278.57L839.69 1279.15L844.04 1280.6L849.85 1283.8L855.67 1285.83L860.02 1283.8L864.38 1278.57L868.74 1264.04L873.1 1243.71L876.58 1217.56L880.36 1194.32L883.27 1184.15L886.17 1181.24L888.5 1183.28L890.53 1188.51L893.43 1201.58L896.34 1217.56L900.7 1240.8L905.06 1258.23L910.87 1274.21L916.68 1284.38L921.91 1290.19L926.84 1292.52" fill="none" stroke="#86161c" stroke-width="1.8" stroke-linejoin="round"/>
<path d="M739.45 1361.8L739.45 1361.95L749.62 1359.34L759.79 1357.01L767.05 1354.11L774.32 1351.2L783.03 1350.91L791.75 1351.2L803.37 1352.66L814.99 1351.78L829.52 1350.62L835.33 1351.2L841.14 1352.66L848.4 1353.53L855.67 1354.11L861.48 1351.2L867.29 1342.49L870.77 1319.24L874.55 1290.19L877.45 1269.85L880.36 1252.42L883.27 1240.8L885.3 1237.32L887.62 1242.25L889.08 1249.52L891.4 1261.14L893.43 1275.67L897.79 1301.81L902.15 1325.06L907.96 1342.49L913.77 1354.11L919 1359.34L923.94 1361.95L923.94 1361.8Z" fill="#6fae3c" fill-opacity="0.48" stroke="none"/>
<line x1="647.9" y1="1361.8" x2="989.3" y2="1361.8" stroke="#8cc46c" stroke-width="1.3" stroke-linecap="butt"/>
<path d="M739.45 1361.8L739.45 1361.95L749.62 1359.34L759.79 1357.01L767.05 1354.11L774.32 1351.2L783.03 1350.91L791.75 1351.2L803.37 1352.66L814.99 1351.78L829.52 1350.62L835.33 1351.2L841.14 1352.66L848.4 1353.53L855.67 1354.11L861.48 1351.2L867.29 1342.49L870.77 1319.24L874.55 1290.19L877.45 1269.85L880.36 1252.42L883.27 1240.8L885.3 1237.32L887.62 1242.25L889.08 1249.52L891.4 1261.14L893.43 1275.67L897.79 1301.81L902.15 1325.06L907.96 1342.49L913.77 1354.11L919 1359.34L923.94 1361.95" fill="none" stroke="#4e9626" stroke-width="1.8" stroke-linejoin="round"/>
<path d="M753.98 1427.6L753.98 1427.61L761.24 1424.71L768.51 1421.51L777.22 1421.8L785.94 1422.38L794.65 1422.38L803.37 1422.38L814.99 1421.51L826.61 1420.35L830.97 1418.61L835.33 1417.15L841.14 1418.61L846.95 1420.93L852.76 1422.96L855.67 1423.83L859.44 1418.02L862.93 1406.4L866.71 1380.26L870.19 1354.11L873.68 1330.87L877.45 1313.43L879.78 1307.62L881.81 1306.17L883.85 1307.62L886.17 1313.43L889.66 1329.41L893.43 1348.3L897.79 1374.45L902.15 1397.69L907.38 1415.12L910.87 1423.83L913.77 1427.61L913.77 1427.6Z" fill="#6a3fb8" fill-opacity="0.58" stroke="none"/>
<line x1="647.9" y1="1427.6" x2="989.3" y2="1427.6" stroke="#8a6ac8" stroke-width="1.3" stroke-linecap="butt"/>
<path d="M753.98 1427.6L753.98 1427.61L761.24 1424.71L768.51 1421.51L777.22 1421.8L785.94 1422.38L794.65 1422.38L803.37 1422.38L814.99 1421.51L826.61 1420.35L830.97 1418.61L835.33 1417.15L841.14 1418.61L846.95 1420.93L852.76 1422.96L855.67 1423.83L859.44 1418.02L862.93 1406.4L866.71 1380.26L870.19 1354.11L873.68 1330.87L877.45 1313.43L879.78 1307.62L881.81 1306.17L883.85 1307.62L886.17 1313.43L889.66 1329.41L893.43 1348.3L897.79 1374.45L902.15 1397.69L907.38 1415.12L910.87 1423.83L913.77 1427.61" fill="none" stroke="#4412a0" stroke-width="1.8" stroke-linejoin="round"/>
<line x1="892" y1="1081.9" x2="892" y2="1427.6" stroke="#000" stroke-width="1.5" stroke-linecap="butt"/>
<rect x="647.9" y="1081.9" width="341.4" height="345.7" fill="none" stroke="#111" stroke-width="1.6"/>
<rect x="666.3" y="1095.6" width="24.5" height="23.2" fill="none" stroke="#111" stroke-width="1.3"/>
<rect x="671.6" y="1101.15" width="13.9" height="12.6" rx="2" fill="#7f7f7f" fill-opacity="0.62" stroke="#3a3a3a" stroke-width="1.6"/>
<text x="694.2" y="1113.1" font-size="15.5" text-anchor="start" >NC</text>
<rect x="666.3" y="1118.8" width="24.5" height="22.7" fill="none" stroke="#111" stroke-width="1.3"/>
<rect x="671.6" y="1124.1" width="13.9" height="12.6" rx="2" fill="#98383c" fill-opacity="0.52" stroke="#86161c" stroke-width="1.6"/>
<text x="694.2" y="1135.8" font-size="15.5" text-anchor="start" >PA</text>
<rect x="666.3" y="1141.5" width="24.5" height="23.3" fill="none" stroke="#111" stroke-width="1.3"/>
<rect x="671.6" y="1147.1" width="13.9" height="12.6" rx="2" fill="#6fae3c" fill-opacity="0.48" stroke="#4e9626" stroke-width="1.6"/>
<text x="694.2" y="1157.7" font-size="15.5" text-anchor="start" >PA+M1</text>
<rect x="666.3" y="1164.8" width="24.5" height="23.2" fill="none" stroke="#111" stroke-width="1.3"/>
<rect x="671.6" y="1170.35" width="13.9" height="12.6" rx="2" fill="#6a3fb8" fill-opacity="0.58" stroke="#4412a0" stroke-width="1.6"/>
<text x="694.2" y="1183.1" font-size="15.5" text-anchor="start" >PA+M1+1400W</text>
<text x="922.85" y="1194.5" font-size="15.5" text-anchor="start" >10.0%</text>
<text x="922.05" y="1265.5" font-size="15.5" text-anchor="start" >29.4%</text>
<text x="923.85" y="1335" font-size="15.5" text-anchor="start" >14.6%</text>
<text x="923.55" y="1401.5" font-size="15.5" text-anchor="start" >23.4%</text>
<text x="611.5" y="1049" font-size="31.5" text-anchor="start" >(I)</text>
<text x="8" y="1046.8" font-size="31.5" text-anchor="start" >(G)</text>
<text x="158.7" y="1058.1" font-size="24.5" text-anchor="start" >NC</text>
<text x="253.3" y="1058.4" font-size="24.5" text-anchor="start" >PA</text>
<text x="319.8" y="1058.1" font-size="24.5" text-anchor="start" textLength="77.2" lengthAdjust="spacingAndGlyphs">PA+M1</text>
<text x="414.7" y="1057.8" font-size="24.5" text-anchor="start" textLength="115.9" lengthAdjust="spacingAndGlyphs">M1+FER-1</text>
<text x="520" y="1084.5" font-size="24.5" text-anchor="start" >kDa</text>
<rect x="116" y="1082.5" width="377" height="75.7" fill="#f8f8f8" stroke="#000" stroke-width="2.4"/>
<rect x="116" y="1167.6" width="376.7" height="66.4" fill="#f8f8f8" stroke="#000" stroke-width="1.7"/>
<ellipse cx="182.85" cy="1122.45" rx="41.35" ry="12.95" fill="#000" fill-opacity="0.19" filter="url(#bl2)"/>
<rect x="144.5" y="1112.5" width="76.7" height="19.9" rx="9.95" ry="9.95" fill="#000" fill-opacity="0.85" filter="url(#bl)"/>
<ellipse cx="166.15" cy="1122" rx="24.65" ry="11.8" fill="#000" fill-opacity="0.13" filter="url(#bl2)"/>
<rect x="144.5" y="1113.2" width="43.3" height="17.6" rx="8.8" ry="8.8" fill="#000" fill-opacity="0.6" filter="url(#bl)"/>
<ellipse cx="274.4" cy="1122.05" rx="33.9" ry="10.25" fill="#000" fill-opacity="0.11" filter="url(#bl2)"/>
<rect x="243.5" y="1114.8" width="61.8" height="14.5" rx="7.25" ry="7.25" fill="#000" fill-opacity="0.52" filter="url(#bl)"/>
<ellipse cx="361.6" cy="1121.8" rx="36.4" ry="12" fill="#000" fill-opacity="0.21" filter="url(#bl2)"/>
<rect x="328.2" y="1112.8" width="66.8" height="18" rx="9" ry="9" fill="#000" fill-opacity="0.95" filter="url(#bl)"/>
<rect x="328.2" y="1112.8" width="66.8" height="18" rx="9" ry="9" fill="#000" fill-opacity="0.95" filter="url(#bl)"/>
<ellipse cx="447.95" cy="1121.8" rx="37.05" ry="12" fill="#000" fill-opacity="0.22" filter="url(#bl2)"/>
<rect x="413.9" y="1112.8" width="68.1" height="18" rx="9" ry="9" fill="#000" fill-opacity="1.0" filter="url(#bl)"/>
<rect x="413.9" y="1112.8" width="68.1" height="18" rx="9" ry="9" fill="#000" fill-opacity="1.0" filter="url(#bl)"/>
<ellipse cx="183.15" cy="1201.5" rx="37.05" ry="9.8" fill="#000" fill-opacity="0.22" filter="url(#bl2)"/>
<rect x="149.1" y="1194.7" width="68.1" height="13.6" rx="6.8" ry="6.8" fill="#000" fill-opacity="1.0" filter="url(#bl)"/>
<rect x="149.1" y="1194.7" width="68.1" height="13.6" rx="6.8" ry="6.8" fill="#000" fill-opacity="1.0" filter="url(#bl)"/>
<ellipse cx="268.75" cy="1205.25" rx="37.05" ry="8.55" fill="#000" fill-opacity="0.21" filter="url(#bl2)"/>
<rect x="234.7" y="1199.7" width="68.1" height="11.1" rx="5.55" ry="5.55" fill="#000" fill-opacity="0.95" filter="url(#bl)"/>
<rect x="234.7" y="1199.7" width="68.1" height="11.1" rx="5.55" ry="5.55" fill="#000" fill-opacity="0.95" filter="url(#bl)"/>
<ellipse cx="358.75" cy="1204.75" rx="36.65" ry="9.05" fill="#000" fill-opacity="0.22" filter="url(#bl2)"/>
<rect x="325.1" y="1198.7" width="67.3" height="12.1" rx="6.05" ry="6.05" fill="#000" fill-opacity="1.0" filter="url(#bl)"/>
<rect x="325.1" y="1198.7" width="67.3" height="12.1" rx="6.05" ry="6.05" fill="#000" fill-opacity="1.0" filter="url(#bl)"/>
<ellipse cx="444.65" cy="1210.55" rx="39.05" ry="9.85" fill="#000" fill-opacity="0.22" filter="url(#bl2)"/>
<rect x="408.6" y="1203.7" width="72.1" height="13.7" rx="6.85" ry="6.85" fill="#000" fill-opacity="1.0" filter="url(#bl)"/>
<rect x="408.6" y="1203.7" width="72.1" height="13.7" rx="6.85" ry="6.85" fill="#000" fill-opacity="1.0" filter="url(#bl)"/>
<text x="20.1" y="1131" font-size="24.5" text-anchor="start" >GPx4</text>
<text x="13.5" y="1207.2" font-size="24.5" text-anchor="start" >Gapdh</text>
<line x1="494" y1="1120.6" x2="518" y2="1120.6" stroke="#000" stroke-width="1.4" stroke-linecap="butt"/>
<text x="521.3" y="1132.5" font-size="24.5" text-anchor="start" >20</text>
<line x1="493.5" y1="1190.9" x2="518" y2="1190.9" stroke="#000" stroke-width="1.4" stroke-linecap="butt"/>
<text x="520.4" y="1203" font-size="24.5" text-anchor="start" >37</text>
<text x="28.7" y="1343.7" font-size="31.5" text-anchor="start" >(</text>
<text x="40.4" y="1347.2" font-size="31.5" text-anchor="start" >H</text>
<text x="64.5" y="1343.7" font-size="31.5" text-anchor="start" >)</text>
<text x="157" y="1381" font-size="24.5" text-anchor="start" transform="rotate(-45 157 1381)" >NC</text>
<text x="244.5" y="1381" font-size="24.5" text-anchor="start" transform="rotate(-45 244.5 1381)" >PA</text>
<text x="335.5" y="1381.5" font-size="24.5" text-anchor="start" transform="rotate(-45 335.5 1381.5)" >PA+M1</text>
<text x="418" y="1382" font-size="24.5" text-anchor="start" transform="rotate(-45 418 1382)" textLength="169" lengthAdjust="spacingAndGlyphs">PA+M1+1400W</text>
<text x="525" y="1387.7" font-size="24.5" text-anchor="start" >kDa</text>
<rect x="116" y="1394.6" width="383" height="76.6" fill="#f8f8f8" stroke="#000" stroke-width="2.4"/>
<rect x="116" y="1487.2" width="382.7" height="65" fill="#f8f8f8" stroke="#000" stroke-width="1.8"/>
<ellipse cx="168.7" cy="1431.05" rx="34.8" ry="13.15" fill="#000" fill-opacity="0.22" filter="url(#bl2)"/>
<rect x="136.9" y="1420.9" width="63.6" height="20.3" rx="10.15" ry="10.15" fill="#000" fill-opacity="1.0" filter="url(#bl)"/>
<rect x="136.9" y="1420.9" width="63.6" height="20.3" rx="10.15" ry="10.15" fill="#000" fill-opacity="1.0" filter="url(#bl)"/>
<ellipse cx="260.75" cy="1432.35" rx="36.15" ry="10.15" fill="#000" fill-opacity="0.1" filter="url(#bl2)"/>
<rect x="227.6" y="1425.2" width="66.3" height="14.3" rx="7.15" ry="7.15" fill="#000" fill-opacity="0.45" filter="url(#bl)"/>
<ellipse cx="353.55" cy="1432.4" rx="39.85" ry="11.8" fill="#000" fill-opacity="0.21" filter="url(#bl2)"/>
<rect x="316.7" y="1423.6" width="73.7" height="17.6" rx="8.8" ry="8.8" fill="#000" fill-opacity="0.95" filter="url(#bl)"/>
<rect x="316.7" y="1423.6" width="73.7" height="17.6" rx="8.8" ry="8.8" fill="#000" fill-opacity="0.95" filter="url(#bl)"/>
<ellipse cx="446.95" cy="1435.05" rx="37.15" ry="10.45" fill="#000" fill-opacity="0.14" filter="url(#bl2)"/>
<rect x="412.8" y="1427.6" width="68.3" height="14.9" rx="7.45" ry="7.45" fill="#000" fill-opacity="0.62" filter="url(#bl)"/>
<ellipse cx="174.7" cy="1509.1" rx="35.8" ry="8.5" fill="#000" fill-opacity="0.22" filter="url(#bl2)"/>
<rect x="141.9" y="1503.6" width="65.6" height="11" rx="5.5" ry="5.5" fill="#000" fill-opacity="1.0" filter="url(#bl)"/>
<rect x="141.9" y="1503.6" width="65.6" height="11" rx="5.5" ry="5.5" fill="#000" fill-opacity="1.0" filter="url(#bl)"/>
<ellipse cx="266.15" cy="1513.1" rx="35.15" ry="8.5" fill="#000" fill-opacity="0.22" filter="url(#bl2)"/>
<rect x="234" y="1507.6" width="64.3" height="11" rx="5.5" ry="5.5" fill="#000" fill-opacity="1.0" filter="url(#bl)"/>
<rect x="234" y="1507.6" width="64.3" height="11" rx="5.5" ry="5.5" fill="#000" fill-opacity="1.0" filter="url(#bl)"/>
<ellipse cx="360.2" cy="1515.7" rx="33.2" ry="8.5" fill="#000" fill-opacity="0.22" filter="url(#bl2)"/>
<rect x="330" y="1510.2" width="60.4" height="11" rx="5.5" ry="5.5" fill="#000" fill-opacity="1.0" filter="url(#bl)"/>
<rect x="330" y="1510.2" width="60.4" height="11" rx="5.5" ry="5.5" fill="#000" fill-opacity="1.0" filter="url(#bl)"/>
<ellipse cx="454.25" cy="1519.1" rx="33.85" ry="10.5" fill="#000" fill-opacity="0.22" filter="url(#bl2)"/>
<rect x="423.4" y="1511.6" width="61.7" height="15" rx="7.5" ry="7.5" fill="#000" fill-opacity="1.0" filter="url(#bl)"/>
<rect x="423.4" y="1511.6" width="61.7" height="15" rx="7.5" ry="7.5" fill="#000" fill-opacity="1.0" filter="url(#bl)"/>
<text x="8.5" y="1437.7" font-size="24.5" text-anchor="start" >GPx4</text>
<text x="1.9" y="1529.3" font-size="24.5" text-anchor="start" >Gapdh</text>
<line x1="500" y1="1429.3" x2="529.5" y2="1429.3" stroke="#000" stroke-width="1.4" stroke-linecap="butt"/>
<text x="528.7" y="1438.8" font-size="24.5" text-anchor="start" >20</text>
<line x1="499.5" y1="1515.6" x2="528" y2="1515.6" stroke="#000" stroke-width="1.4" stroke-linecap="butt"/>
<text x="526.5" y="1524" font-size="24.5" text-anchor="start" >37</text>
</svg>
</body></html>
